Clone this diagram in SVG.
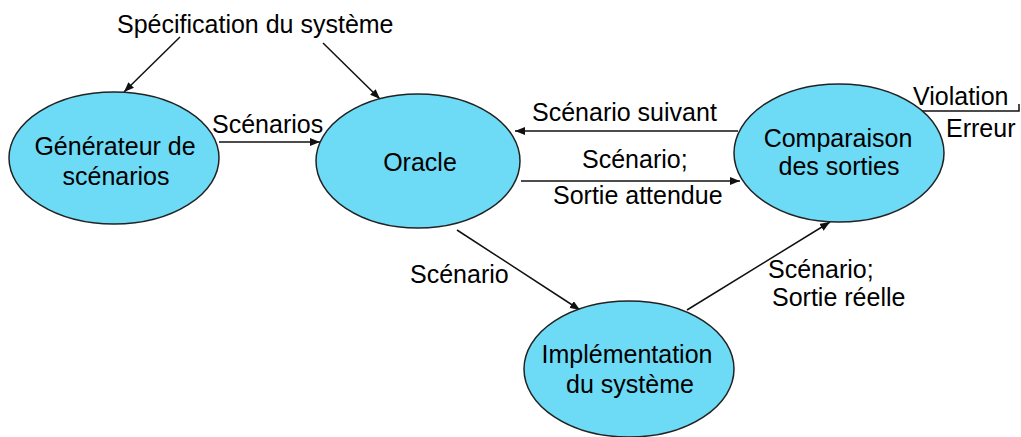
<svg xmlns="http://www.w3.org/2000/svg" width="1021" height="437" viewBox="0 0 1021 437">
  <style>
    .node { fill: #6ddbf5; stroke: #222; stroke-width: 1.5; }
    .lbl { font-family: "Liberation Sans", Arial, sans-serif; font-size: 25px; fill: #000; }
    .mid { text-anchor: middle; }
    .edge { stroke: #111; stroke-width: 1.5; fill: none; }
  </style>
  <defs>
    <marker id="arrow" viewBox="0 0 10 8" refX="10" refY="4" markerWidth="10" markerHeight="8" markerUnits="userSpaceOnUse" orient="auto">
      <path d="M0,0 L10,4 L0,8 Z" fill="#111"/>
    </marker>
  </defs>
  <rect width="1021" height="437" fill="#fff"/>

  <!-- connectors -->
  <g id="connectors">
    <line class="edge" x1="180" y1="37" x2="124" y2="92" marker-end="url(#arrow)"/>
    <line class="edge" x1="323" y1="43" x2="380" y2="99" marker-end="url(#arrow)"/>
    <line class="edge" x1="219" y1="142" x2="320" y2="142" marker-end="url(#arrow)"/>
    <line class="edge" x1="738" y1="131" x2="515" y2="131" marker-end="url(#arrow)"/>
    <line class="edge" x1="521" y1="181" x2="740" y2="181" marker-end="url(#arrow)"/>
    <line class="edge" x1="457" y1="230" x2="580" y2="310" marker-end="url(#arrow)"/>
    <line class="edge" x1="687" y1="310" x2="830" y2="222" marker-end="url(#arrow)"/>
    <polyline class="edge" points="922,111 1019,111 1019,104"/>
    <text class="lbl" x="212" y="133">Scénarios</text>
    <text class="lbl" x="532" y="121">Scénario suivant</text>
    <text class="lbl" x="582" y="168">Scénario;</text>
    <text class="lbl" x="553" y="204">Sortie attendue</text>
    <text class="lbl" x="410" y="283">Scénario</text>
    <text class="lbl" x="768" y="278">Scénario;</text>
    <text class="lbl" x="772" y="306">Sortie réelle</text>
    <text class="lbl" x="913" y="105">Violation</text>
    <text class="lbl" x="946" y="137">Erreur</text>
  </g>

  <g id="spec">
    <text class="lbl" x="117" y="33">Spécification du système</text>
  </g>

  <g id="generateur">
    <ellipse class="node" cx="114" cy="158" rx="105" ry="66"/>
    <text class="lbl mid" x="115" y="155">Générateur de</text>
    <text class="lbl mid" x="116" y="185">scénarios</text>
  </g>

  <g id="oracle">
    <ellipse class="node" cx="418" cy="161" rx="102" ry="67"/>
    <text class="lbl mid" x="420" y="171">Oracle</text>
  </g>

  <g id="comparaison">
    <ellipse class="node" cx="839" cy="153" rx="105" ry="69"/>
    <text class="lbl mid" x="838" y="147">Comparaison</text>
    <text class="lbl mid" x="839" y="175">des sorties</text>
  </g>

  <g id="implementation">
    <ellipse class="node" cx="629" cy="369" rx="105" ry="68"/>
    <text class="lbl mid" x="627" y="363">Implémentation</text>
    <text class="lbl mid" x="630" y="393">du système</text>
  </g>
</svg>
